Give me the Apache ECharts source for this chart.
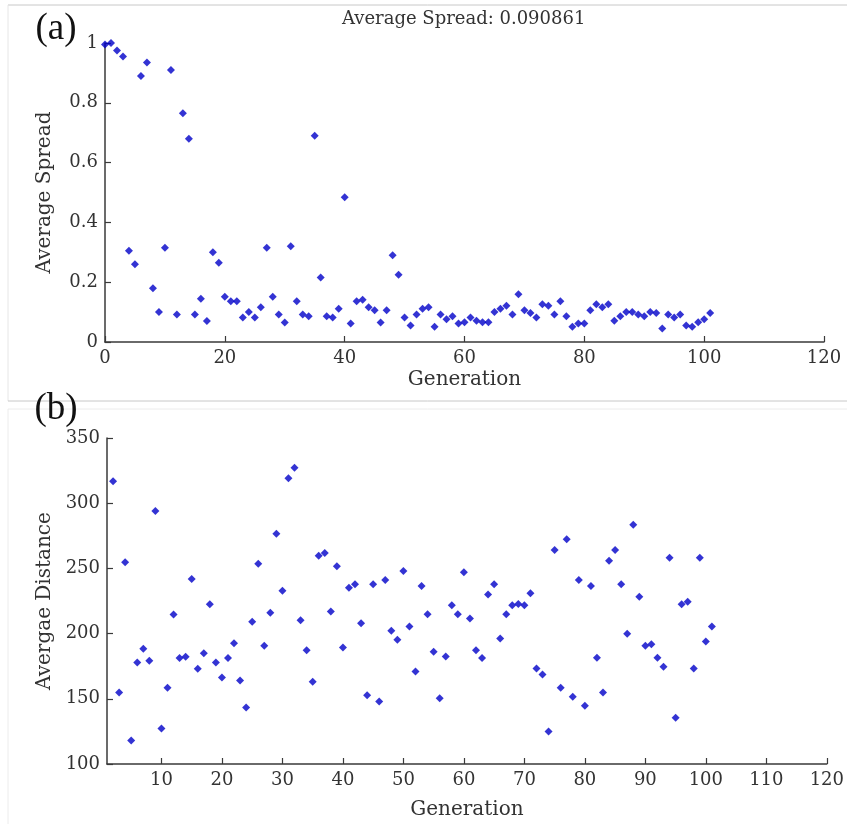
<!DOCTYPE html>
<html>
<head>
<meta charset="utf-8">
<script src="https://cdn.jsdelivr.net/npm/echarts@6/dist/echarts.min.js"></script>
<style>
  html, body { margin: 0; padding: 0; background: #fff; }
  #chart { width: 847px; height: 824px; }
</style>
</head>
<body>
<div id="chart"></div>
<script>
// (a) average spread per generation, starting at generation 0
const spreadValues = [
  0.995, 1.0, 0.975, 0.955, 0.305, 0.26, 0.89, 0.935, 0.18, 0.10,
  0.315, 0.91, 0.092, 0.765, 0.68, 0.092, 0.145, 0.07, 0.30, 0.265,
  0.151, 0.136, 0.136, 0.082, 0.10, 0.082, 0.116, 0.315, 0.151, 0.092,
  0.065, 0.32, 0.136, 0.092, 0.086, 0.69, 0.216, 0.086, 0.082, 0.111,
  0.484, 0.062, 0.136, 0.141, 0.116, 0.106, 0.065, 0.106, 0.29, 0.225,
  0.082, 0.055, 0.092, 0.111, 0.116, 0.051, 0.092, 0.076, 0.086, 0.062,
  0.066, 0.082, 0.071, 0.066, 0.066, 0.10, 0.111, 0.121, 0.092, 0.16,
  0.106, 0.097, 0.082, 0.126, 0.121, 0.092, 0.136, 0.086, 0.051, 0.062,
  0.062, 0.106, 0.126, 0.116, 0.126, 0.071, 0.086, 0.10, 0.10, 0.092,
  0.086, 0.10, 0.097, 0.045, 0.092, 0.082, 0.092, 0.055, 0.051, 0.066,
  0.076, 0.097
]
const spreadFirstGen = 0

// (b) average distance per generation, starting at generation 2
const distanceValues = [
  316.9, 154.8, 254.7, 118.1, 177.8, 188.3, 179.1, 294.0, 127.3, 158.4,
  214.7, 181.2, 182.2, 241.9, 173.0, 185.0, 222.5, 177.8, 166.3, 181.2,
  192.6, 164.0, 143.3, 209.0, 253.6, 190.6, 215.9, 276.6, 232.9, 319.2,
  327.1, 210.2, 187.3, 163.0, 259.7, 261.8, 216.9, 251.6, 189.3, 235.2,
  237.8, 208.0, 152.8, 237.8, 147.9, 241.1, 202.1, 195.2, 248.0, 205.4,
  170.9, 236.5, 214.8, 186.0, 150.5, 182.4, 221.7, 214.8, 247.0, 211.5,
  187.3, 181.2, 229.9, 237.8, 196.2, 214.8, 221.7, 222.7, 221.7, 230.9,
  173.2, 168.6, 125.0, 264.1, 158.4, 272.3, 151.5, 241.1, 144.6, 236.5,
  181.4, 154.8, 255.9, 264.1, 237.8, 199.8, 283.5, 228.3, 190.6, 191.9,
  181.4, 174.5, 258.2, 135.5, 222.5, 224.5, 173.2, 258.2, 193.9, 205.4
]
const distanceFirstGen = 2
const distanceTicks = [10, 20, 30, 40, 50, 60, 70, 80, 90, 100, 110, 120]

const SERIF = 'DejaVu Serif'
const AXIS_COLOR = '#3a3a3a'
const LABEL_COLOR = '#333'
const MARK_COLOR = '#0000c8'
const BORDER = '#c8c8c8'

const spreadData = spreadValues.map((v, i) => [spreadFirstGen + i, v])
const distanceData = distanceValues.map((v, i) => [distanceFirstGen + i, v])

const axisLine = { show: true, lineStyle: { color: AXIS_COLOR, width: 1.5 } }
const axisTick = { show: true, inside: true, length: 6, lineStyle: { color: AXIS_COLOR, width: 1.2 } }
const axisLabel = { color: LABEL_COLOR, fontFamily: SERIF, fontSize: 18, margin: 7 }
const nameStyle = { color: LABEL_COLOR, fontFamily: SERIF, fontSize: 20 }

const chart = echarts.init(document.getElementById('chart'))
chart.setOption({
  backgroundColor: '#fff',
  animation: false,
  grid: [
    { left: 105, top: 43, width: 719, height: 299 },
    { left: 107, top: 438, width: 724, height: 326 }
  ],
  xAxis: [
    {
      gridIndex: 0, type: 'value', min: 0, max: 120, interval: 20,
      name: 'Generation', nameLocation: 'middle', nameGap: 28, nameTextStyle: nameStyle,
      axisLine, axisTick, axisLabel, splitLine: { show: false }
    },
    {
      gridIndex: 1, type: 'value', min: 1, max: 120,
      name: 'Generation', nameLocation: 'middle', nameGap: 36, nameTextStyle: nameStyle,
      axisLine,
      axisTick: Object.assign({}, axisTick, { customValues: distanceTicks }),
      axisLabel: Object.assign({}, axisLabel, { customValues: distanceTicks }),
      splitLine: { show: false }
    }
  ],
  yAxis: [
    {
      gridIndex: 0, type: 'value', min: 0, max: 1, interval: 0.2,
      name: 'Average Spread', nameLocation: 'middle', nameGap: 50, nameTextStyle: nameStyle,
      axisLine, axisTick, axisLabel, splitLine: { show: false }
    },
    {
      gridIndex: 1, type: 'value', min: 100, max: 350, interval: 50,
      name: 'Avergae Distance', nameLocation: 'middle', nameGap: 50, nameTextStyle: nameStyle,
      axisLine, axisTick, axisLabel, splitLine: { show: false }
    }
  ],
  series: [
    {
      type: 'scatter', xAxisIndex: 0, yAxisIndex: 0, data: spreadData,
      symbol: 'diamond', symbolSize: 8, itemStyle: { color: MARK_COLOR }
    },
    {
      type: 'scatter', xAxisIndex: 1, yAxisIndex: 1, data: distanceData,
      symbol: 'diamond', symbolSize: 8, itemStyle: { color: MARK_COLOR }
    }
  ],
  graphic: [
    // panel frames of the two stacked figures
    { type: 'line', shape: { x1: 8, y1: 5, x2: 847, y2: 5 }, style: { stroke: BORDER, lineWidth: 1 }, silent: true },
    { type: 'line', shape: { x1: 8, y1: 5, x2: 8, y2: 401 }, style: { stroke: '#e6e6e6', lineWidth: 1 }, silent: true },
    { type: 'line', shape: { x1: 8, y1: 401, x2: 847, y2: 401 }, style: { stroke: BORDER, lineWidth: 1 }, silent: true },
    { type: 'line', shape: { x1: 8, y1: 409, x2: 847, y2: 409 }, style: { stroke: '#ececec', lineWidth: 1 }, silent: true },
    { type: 'line', shape: { x1: 8, y1: 409, x2: 8, y2: 824 }, style: { stroke: '#ececec', lineWidth: 1 }, silent: true },
    {
      type: 'text', left: 461 - 119, top: 10, z: 10,
      style: { text: 'Average Spread: 0.090861', fill: '#333', font: '18px "DejaVu Serif"' }
    },
    {
      type: 'text', x: 56, y: 29, z: 10,
      style: { text: '(a)', fill: '#111', font: '37px "Liberation Serif"', align: 'center', verticalAlign: 'middle' }
    },
    {
      type: 'text', x: 56, y: 409, z: 10,
      style: { text: '(b)', fill: '#111', font: '37px "Liberation Serif"', align: 'center', verticalAlign: 'middle' }
    }
  ]
})
</script>
</body>
</html>
